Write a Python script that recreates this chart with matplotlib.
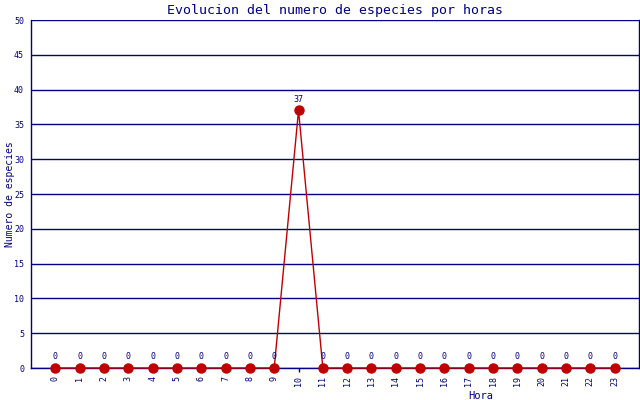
import numpy as np
import matplotlib
matplotlib.use("Agg")
from matplotlib import pyplot as plt

hours = list(range(24))
species = [0, 0, 0, 0, 0, 0, 0, 0, 0, 0, 37, 0, 0, 0, 0, 0, 0, 0, 0, 0, 0, 0, 0, 0]
yticks = [0, 5, 10, 15, 20, 25, 30, 35, 40, 45, 50]

navy = "#000080"
red = "#c00000"
mono = "DejaVu Sans Mono"

fig = plt.figure(figsize=(6.4, 4.0), dpi=100)
ax = fig.add_axes([31 / 640, 32 / 400, 608 / 640, 348 / 400])

ax.set_xlim(-1, 24)
ax.set_ylim(0, 50)
ax.set_yticks(yticks)
ax.set_xticks(hours)
ax.set_xticklabels([str(h) for h in hours], rotation=90, fontsize=6,
                   color=navy, family=mono)
ax.set_yticklabels([str(v) for v in yticks], fontsize=6, color=navy, family=mono)
ax.tick_params(axis="x", length=3, width=1, color=navy, pad=3)
ax.tick_params(axis="y", length=0, pad=5)

ax.grid(axis="y", color=navy, lw=1)
ax.set_axisbelow(True)
for s in ["left", "right", "bottom"]:
    ax.spines[s].set_color(navy)
    ax.spines[s].set_linewidth(1)
ax.spines["top"].set_visible(False)

ax.plot(hours, species, color=red, lw=1, marker="o", ms=6.5,
        markerfacecolor=red, markeredgecolor=red, clip_on=False, zorder=3)
for h, v in zip(hours, species):
    ax.annotate(str(v), (h, v), xytext=(0, 5), textcoords="offset points",
                ha="center", va="bottom", fontsize=6, color=navy, family=mono)

ax.set_title("Evolucion del numero de especies por horas", fontsize=9.5,
             color=navy, family=mono, pad=4)
ax.set_ylabel("Numero de especies", fontsize=7, color=navy, family=mono)
ax.yaxis.set_label_coords(-0.026, 0.5)
ax.set_xlabel("Hora", fontsize=7.5, color=navy, family=mono)
ax.xaxis.set_label_coords(0.74, -0.065)

fig.savefig("out.png", dpi=100)
